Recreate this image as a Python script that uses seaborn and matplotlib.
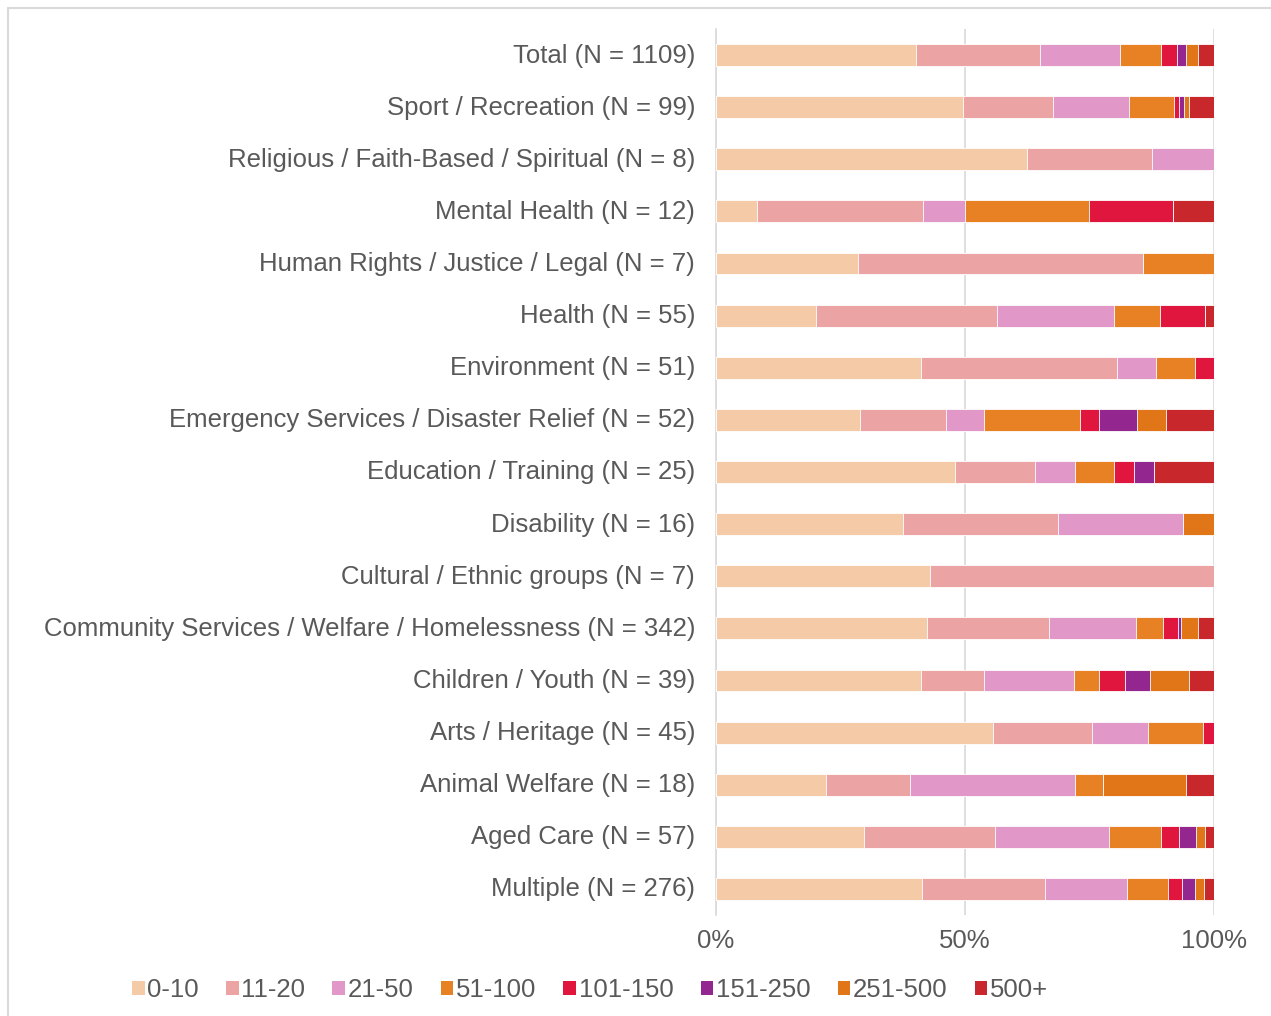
import numpy as np
import pandas as pd
import matplotlib
matplotlib.use("Agg")
import matplotlib.pyplot as plt
import matplotlib.transforms as mtransforms
from matplotlib.lines import Line2D
from matplotlib.patches import Patch
import seaborn as sns

categories = [
    "Total (N = 1109)",
    "Sport / Recreation (N = 99)",
    "Religious / Faith-Based / Spiritual (N = 8)",
    "Mental Health (N = 12)",
    "Human Rights / Justice / Legal (N = 7)",
    "Health (N = 55)",
    "Environment (N = 51)",
    "Emergency Services / Disaster Relief (N = 52)",
    "Education / Training (N = 25)",
    "Disability (N = 16)",
    "Cultural / Ethnic groups (N = 7)",
    "Community Services / Welfare / Homelessness (N = 342)",
    "Children / Youth (N = 39)",
    "Arts / Heritage (N = 45)",
    "Animal Welfare (N = 18)",
    "Aged Care (N = 57)",
    "Multiple (N = 276)",
]
series_names = ["0-10", "11-20", "21-50", "51-100", "101-150", "151-250", "251-500", "500+"]

# percentage of each category (rows follow `categories`)
s_0_10    = [40.2, 49.5, 62.5,  8.3, 28.6, 20.0, 41.2, 28.8, 48.0, 37.5, 42.9, 42.3, 41.0, 55.6, 22.2, 29.8, 41.4]
s_11_20   = [24.8, 18.2, 25.0, 33.3, 57.1, 36.4, 39.2, 17.3, 16.0, 31.3, 57.1, 24.5, 12.8, 20.0, 16.7, 26.3, 24.6]
s_21_50   = [16.2, 15.2, 12.5,  8.3,  0.0, 23.6,  7.8,  7.7,  8.0, 25.0,  0.0, 17.5, 17.9, 11.1, 33.3, 22.8, 16.6]
s_51_100  = [ 8.1,  9.1,  0.0, 25.0, 14.3,  9.1,  7.8, 19.2,  8.0,  0.0,  0.0,  5.5,  5.1, 11.1,  5.6, 10.5,  8.1]
s_101_150 = [ 3.3,  1.0,  0.0, 16.7,  0.0,  9.1,  3.9,  3.8,  4.0,  0.0,  0.0,  3.0,  5.1,  2.2,  0.0,  3.5,  2.9]
s_151_250 = [ 1.7,  1.0,  0.0,  0.0,  0.0,  0.0,  0.0,  7.7,  4.0,  0.0,  0.0,  0.6,  5.1,  0.0,  0.0,  3.5,  2.6]
s_251_500 = [ 2.4,  1.0,  0.0,  0.0,  0.0,  0.0,  0.0,  5.8,  0.0,  6.3,  0.0,  3.3,  7.7,  0.0, 16.7,  1.8,  1.7]
s_500p    = [ 3.3,  5.0,  0.0,  8.3,  0.0,  1.8,  0.0,  9.6, 12.0,  0.0,  0.0,  3.3,  5.1,  0.0,  5.6,  1.8,  2.1]

colors = ["#F5CBA7", "#EBA3A4", "#E197C8", "#E88024", "#E1163F", "#93278F", "#E07617", "#C8282C"]

all_series = [s_0_10, s_11_20, s_21_50, s_51_100, s_101_150, s_151_250, s_251_500, s_500p]
vals = np.array(all_series, dtype=float)
vals = vals / vals.sum(axis=0) * 100.0
cum = np.cumsum(vals, axis=0)

sns.set_theme(style="white")
plt.rcParams["font.family"] = ["Liberation Sans", "DejaVu Sans"]
text_color = "#595959"
grid_color = "#D9D9D9"
fs = 18.5

fig = plt.figure(figsize=(12.71, 10.16), dpi=100)
ax = fig.add_axes([716 / 1271, 1 - 915 / 1016, (1214 - 716) / 1271, (915 - 29) / 1016])

for i in range(len(series_names) - 1, -1, -1):
    df = pd.DataFrame({"category": categories, "value": cum[i]})
    sns.barplot(data=df, x="value", y="category", order=categories, color=colors[i],
                orient="h", width=0.42, ax=ax, saturation=1, errorbar=None,
                edgecolor="white", linewidth=0.6, zorder=3)

ax.set_xlim(0, 100)
ax.set_ylim(len(categories) - 0.5, -0.5)
ax.set_xticks([0, 50, 100])
ax.set_xticklabels(["0%", "50%", "100%"])
ax.xaxis.grid(True, color=grid_color, linewidth=1.2, zorder=0)
ax.set_axisbelow(True)
ax.set_xlabel("")
ax.set_ylabel("")
for s in ["top", "right", "bottom"]:
    ax.spines[s].set_visible(False)
ax.spines["left"].set_color(grid_color)
ax.spines["left"].set_linewidth(1.2)
ax.tick_params(axis="y", length=0, pad=15, labelsize=fs, labelcolor=text_color)
ax.tick_params(axis="x", length=0, pad=10, labelsize=fs, labelcolor=text_color)

# nudge category labels up slightly
offset = mtransforms.ScaledTranslation(0, 2 / 100, fig.dpi_scale_trans)
for lbl in ax.get_yticklabels():
    lbl.set_transform(lbl.get_transform() + offset)

handles = [Patch(facecolor=c, edgecolor="none") for c in colors]
fig.legend(handles, series_names, loc="center", bbox_to_anchor=(590 / 1271, 1 - 990 / 1016),
           ncol=8, frameon=False, fontsize=fs, labelcolor=text_color,
           handlelength=0.5, handleheight=0.5, handletextpad=0.1, columnspacing=1.05)

# outer border (top & left visible)
fig.add_artist(Line2D([7.5 / 1271, 7.5 / 1271], [0, 1 - 7.5 / 1016], transform=fig.transFigure,
                      color="#D9D9D9", linewidth=1.5))
fig.add_artist(Line2D([7.5 / 1271, 1], [1 - 7.5 / 1016, 1 - 7.5 / 1016], transform=fig.transFigure,
                      color="#D9D9D9", linewidth=1.5))

fig.savefig("out.png", dpi=100, facecolor="white")
